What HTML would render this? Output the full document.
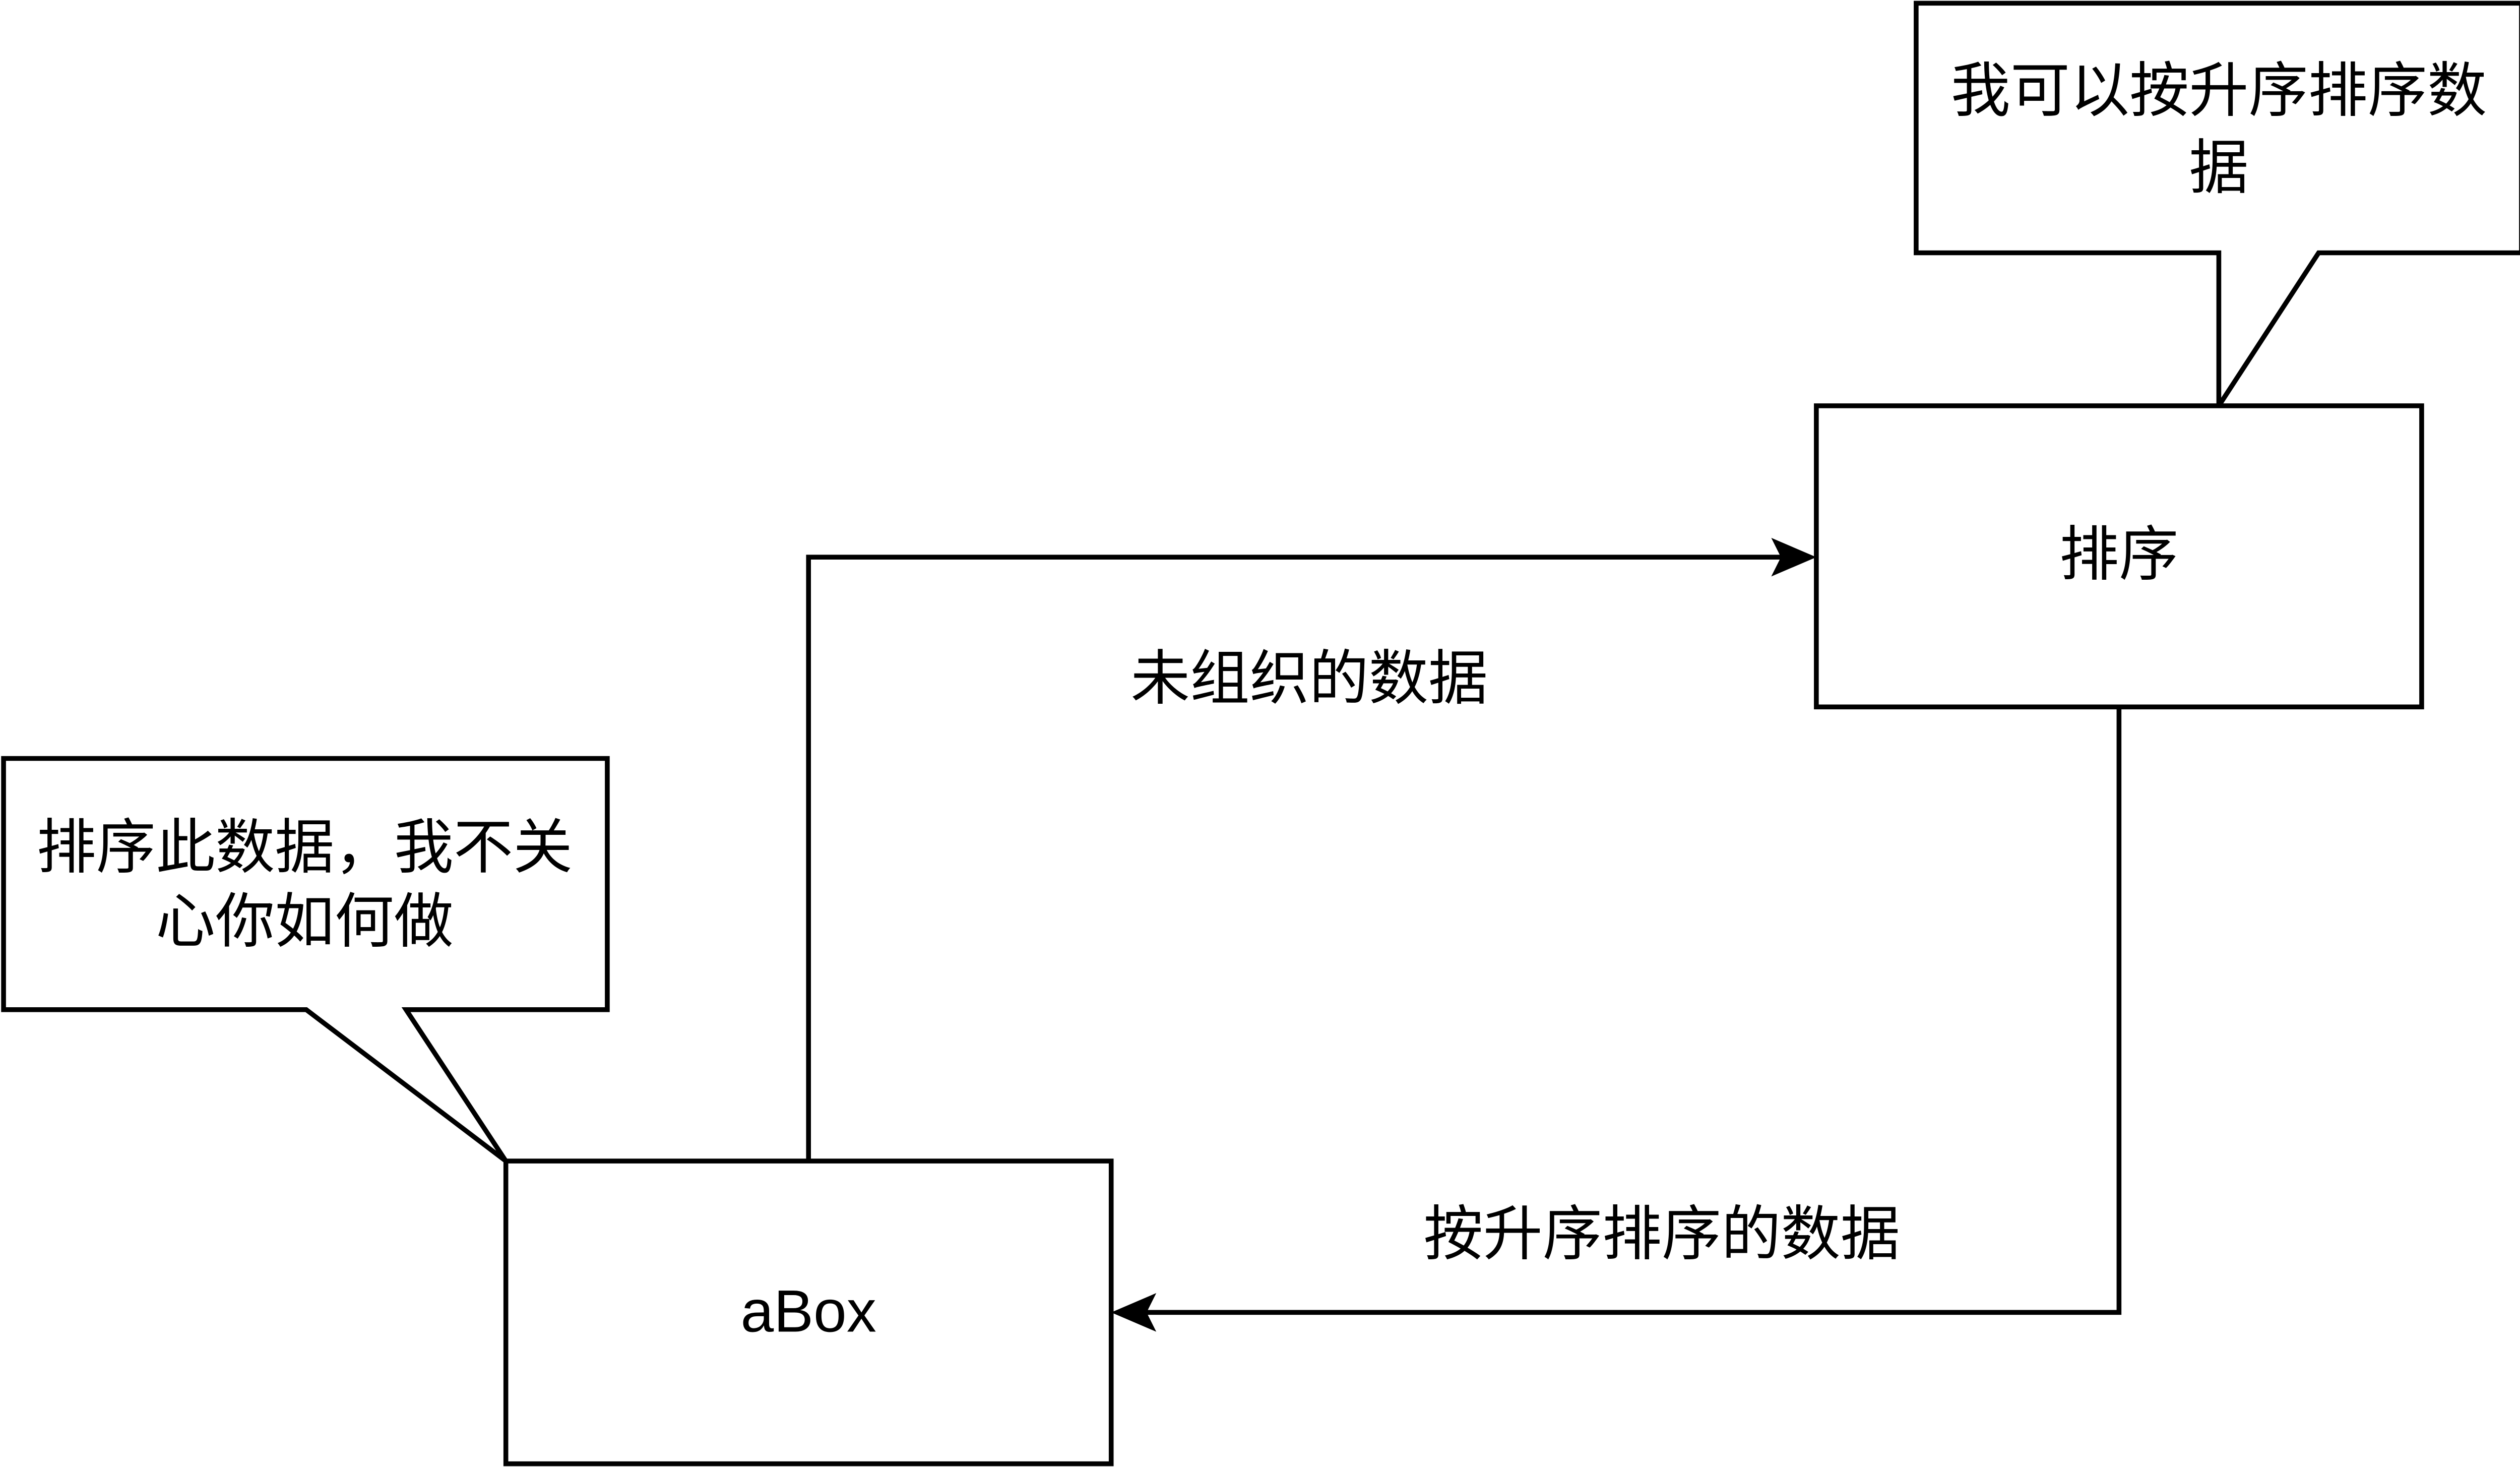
<!DOCTYPE html>
<html><head><meta charset="utf-8">
<style>
html,body{margin:0;padding:0;background:#fff;}
svg{display:block;}
text{font-family:"Liberation Sans","Noto Sans CJK SC",sans-serif;font-size:37px;fill:#000;}
</style></head>
<body>
<svg width="5010" height="2910" viewBox="0 0 1568 911" xmlns="http://www.w3.org/2000/svg">
<g fill="none" stroke="#000" stroke-width="3">
<path d="M1190,2 H1566 V157 H1440 L1378,252 V157 H1190 Z" fill="#fff"/>
<path d="M2,471 H377 V627 H252 L314,721 L190,627 H2 Z" fill="#fff"/>
<rect x="1128" y="252" width="376" height="187" fill="#fff"/>
<rect x="314" y="721" width="376" height="188" fill="#fff"/>
<path d="M502,721 V346 H1116"/>
<path d="M1316,439 V815 H702"/>
</g>
<path d="M1128,346 L1100,334 L1106,346 L1100,358 Z" fill="#000"/>
<path d="M690,815 L718,803 L712,815 L718,827 Z" fill="#000"/>
<text x="1378" y="69" text-anchor="middle">我可以按升序排序数</text>
<text x="1378" y="117" text-anchor="middle">据</text>
<text x="189" y="539" text-anchor="middle">排序此数据，我不关</text>
<text x="189" y="585" text-anchor="middle">心你如何做</text>
<text x="1316" y="357" text-anchor="middle">排序</text>
<text x="502" y="827" text-anchor="middle">aBox</text>
<text x="813" y="434" text-anchor="middle">未组织的数据</text>
<text x="1032" y="779" text-anchor="middle">按升序排序的数据</text>
</svg>
</body></html>
